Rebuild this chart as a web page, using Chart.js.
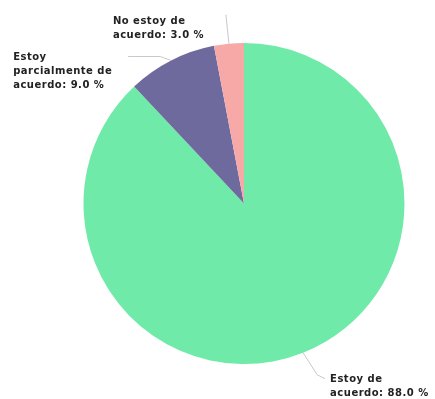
<!DOCTYPE html>
<html>
<head>
<meta charset="utf-8">
<script src="https://cdn.jsdelivr.net/npm/chart.js@4/dist/chart.umd.min.js"></script>
<style>
  html, body { margin: 0; padding: 0; background: #fff; }
  #wrap { width: 435px; height: 399px; position: relative; }
</style>
</head>
<body>
<div id="wrap"><canvas id="pieChart"></canvas></div>
<script>
// --- DADOS ---
const categorias = ['Estoy de acuerdo', 'Estoy parcialmente de acuerdo', 'No estoy de acuerdo'];
const valores = [88.0, 9.0, 3.0];
const cores = ['#70eaa9', '#6f6a9d', '#f7a9a8'];

// linhas de cada rótulo (quebra manual)
const linhasRotulo = [
    ['Estoy de', 'acuerdo: 88.0 %'],
    ['Estoy', 'parcialmente de', 'acuerdo: 9.0 %'],
    ['No estoy de', 'acuerdo: 3.0 %']
];

// guia (pontos relativos à borda da fatia) e início do texto
const ajustes = [
    { guia: [[14, 22], [22, 26]], tx: 27, ty: 27 },
    { guia: [[-11, -4], [-43, -4]], tx: -158, ty: -3 },
    { guia: [[-3, -29]], tx: -116, ty: -22 }
];

const rotulosPlugin = {
    id: 'rotulos',
    afterDatasetsDraw(chart) {
        const ctx = chart.ctx;
        const arcs = chart.getDatasetMeta(0).data;
        ctx.save();
        ctx.font = 'bold 10px "DejaVu Sans"';
        ctx.letterSpacing = '0.5px';
        ctx.fillStyle = '#222';
        ctx.textBaseline = 'middle';
        ctx.textAlign = 'left';
        arcs.forEach((arc, i) => {
            const meio = (arc.startAngle + arc.endAngle) / 2;
            const px = arc.x + Math.cos(meio) * arc.outerRadius;
            const py = arc.y + Math.sin(meio) * arc.outerRadius;
            const a = ajustes[i];
            // linha guia
            ctx.strokeStyle = '#c8c8d0';
            ctx.lineWidth = 1;
            ctx.beginPath();
            ctx.moveTo(px, py);
            a.guia.forEach(p => ctx.lineTo(px + p[0], py + p[1]));
            ctx.stroke();
            // texto
            linhasRotulo[i].forEach((l, k) => ctx.fillText(l, px + a.tx, py + a.ty + k * 14));
        });
        ctx.restore();
    }
};

new Chart(document.getElementById('pieChart'), {
    type: 'pie',
    data: {
        labels: categorias,
        datasets: [{
            data: valores,
            backgroundColor: cores,
            borderWidth: 0
        }]
    },
    options: {
        responsive: true,
        maintainAspectRatio: false,
        animation: false,
        layout: { padding: { left: 82, right: 29, top: 43, bottom: 35 } },
        plugins: {
            legend: { display: false },
            tooltip: { enabled: false }
        }
    },
    plugins: [rotulosPlugin]
});
</script>
</body>
</html>
